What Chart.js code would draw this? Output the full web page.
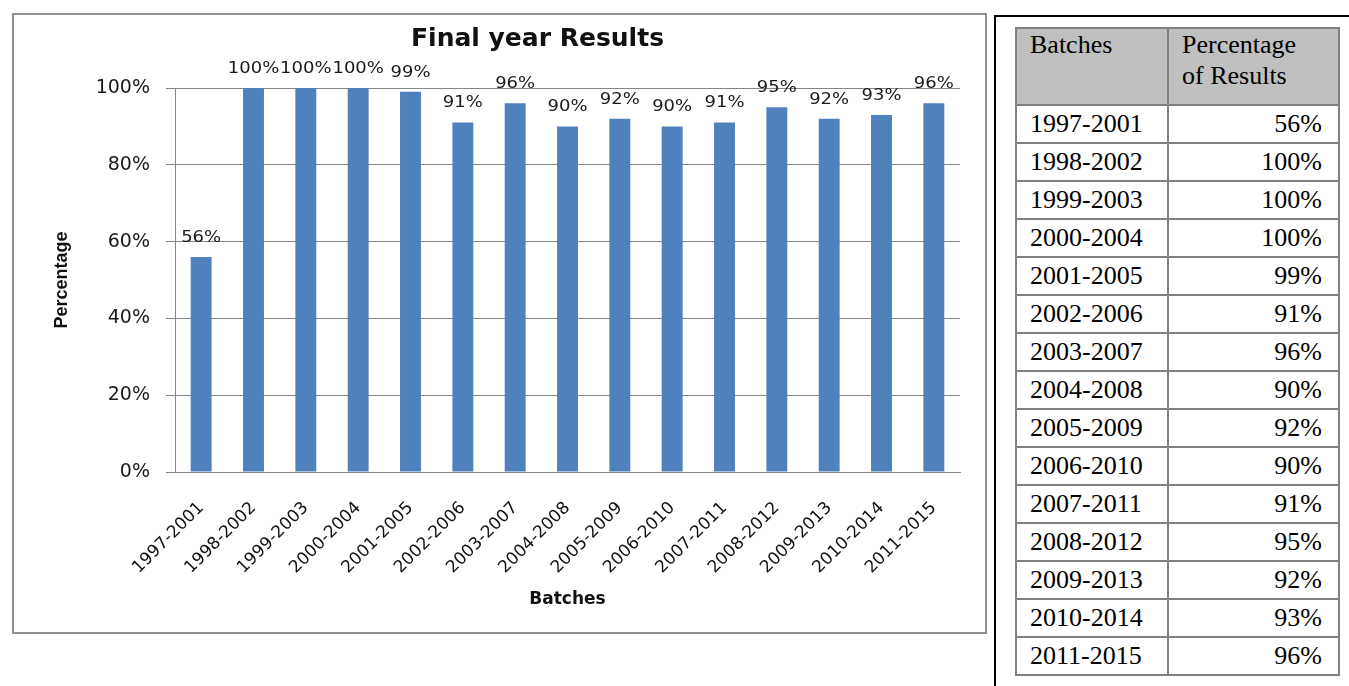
<!DOCTYPE html>
<html>
<head>
<meta charset="utf-8">
<title>Final year Results</title>
<script src="https://cdn.jsdelivr.net/npm/chart.js@4"></script>
<style>
    html, body{
        margin:0;
        padding:0;
        background:#ffffff;
        width:1349px;
        height:686px;
        overflow:hidden;
    }

    /* chart frame (grey) */
    #chartBox{
        position:absolute;
        left:12px;
        top:13px;
        width:975px;
        height:621px;
        box-sizing:border-box;
        border:2px solid #8f8f8f;
    }

    #chartWrap{
        position:relative;
        width:971px;
        height:617px;
    }

    /* table frame (black) */
    #tableBox{
        position:absolute;
        left:994px;
        top:15px;
        width:400px;
        height:700px;
        box-sizing:border-box;
        border:2px solid #000000;
    }

    #resultTable{
        position:absolute;
        left:1015px;
        top:27px;
        border-collapse:collapse;
        table-layout:fixed;
        width:323px;
        font-family:"Liberation Serif", "Times New Roman", serif;
        font-size:26px;
        color:#000000;
    }

    #resultTable th,
    #resultTable td{
        border:2px solid #808080;
        padding:0 16px 0 13px;
        line-height:36px;
        font-weight:normal;
        white-space:nowrap;
    }

    #resultTable th{
        background:#c0c0c0;
        text-align:left;
        vertical-align:top;
        line-height:31px;
        padding-bottom:13px;
        white-space:normal;
    }

    #resultTable td.val{
        text-align:right;
    }
</style>
</head>
<body>

<div id="chartBox">
    <div id="chartWrap">
        <canvas id="barChart"></canvas>
    </div>
</div>

<div id="tableBox"></div>

<table id="resultTable">
    <colgroup>
        <col style="width:152px">
        <col style="width:171px">
    </colgroup>
    <thead>
        <tr>
            <th>Batches</th>
            <th>Percentage of Results</th>
        </tr>
    </thead>
    <tbody id="resultBody"></tbody>
</table>

<script>

/*
=================================
DATA
=================================
*/

const batches = [
    "1997-2001",
    "1998-2002",
    "1999-2003",
    "2000-2004",
    "2001-2005",
    "2002-2006",
    "2003-2007",
    "2004-2008",
    "2005-2009",
    "2006-2010",
    "2007-2011",
    "2008-2012",
    "2009-2013",
    "2010-2014",
    "2011-2015"
];

const results = [
    56, 100, 100, 100, 99, 91, 96,
    90, 92, 90, 91, 95, 92, 93, 96
];

const yTickValues = [0, 20, 40, 60, 80, 100];

const chartTitle = "Final year Results";
const xAxisTitle = "Batches";
const yAxisTitle = "Percentage";

/*
=================================
TABLE
=================================
*/

function loadTable(){

    const body =
        document.getElementById(
            "resultBody"
        );

    batches.forEach((batch, i) => {

        const row =
            document.createElement("tr");

        row.innerHTML = `
            <td>${batch}</td>
            <td class="val">${results[i]}%</td>
        `;

        body.appendChild(row);
    });
}

/*
=================================
PLUGINS
=================================
*/

// value labels above each bar
const barLabels = {

    id:"barLabels",

    afterDatasetsDraw(chart){

        const ctx = chart.ctx;
        const meta = chart.getDatasetMeta(0);

        ctx.save();
        ctx.font = "15px 'DejaVu Sans'";
        ctx.fillStyle = "#1a1a1a";
        ctx.textAlign = "center";
        ctx.textBaseline = "middle";

        meta.data.forEach((bar, i) => {

            ctx.save();
            ctx.translate(bar.x, bar.y - 19);
            ctx.scale(1.2, 1);
            ctx.fillText(results[i] + "%", 0, 0);
            ctx.restore();
        });

        ctx.restore();
    }
};

// chart title (sits a bit left of the plot centre)
const titleText = {

    id:"titleText",

    afterDraw(chart){

        const ctx = chart.ctx;
        const area = chart.chartArea;

        ctx.save();
        ctx.font = "bold 25px 'DejaVu Sans'";
        ctx.fillStyle = "#111111";
        ctx.textAlign = "center";
        ctx.textBaseline = "middle";
        ctx.fillText(
            chartTitle,
            (area.left + area.right) / 2 - 30,
            24
        );
        ctx.restore();
    }
};

/*
=================================
BAR CHART
=================================
*/

function createBarChart(){

    const canvas =
        document.getElementById(
            "barChart"
        );

    new Chart(canvas, {

        type:"bar",

        data:{

            labels:batches,

            datasets:[{

                data:results,

                backgroundColor:"#4f81bd",

                barPercentage:0.4,

                categoryPercentage:1
            }]
        },

        options:{

            responsive:true,
            maintainAspectRatio:false,
            animation:false,

            layout:{
                padding:{
                    top:73,
                    right:25,
                    bottom:0,
                    left:0
                }
            },

            plugins:{
                legend:{ display:false },
                tooltip:{ enabled:false }
            },

            scales:{

                x:{

                    afterFit(scale){
                        scale.height = 160;
                    },

                    grid:{
                        display:false,
                        drawTicks:false
                    },

                    border:{
                        display:true,
                        color:"#858585",
                        width:1
                    },

                    ticks:{
                        minRotation:45,
                        maxRotation:45,
                        autoSkip:false,
                        padding:26,
                        color:"#111111",
                        font:{
                            family:"DejaVu Sans",
                            size:17
                        }
                    },

                    title:{
                        display:true,
                        text:xAxisTitle,
                        color:"#111111",
                        padding:{ top:0, bottom:22 },
                        font:{
                            family:"DejaVu Sans",
                            size:17,
                            weight:"bold"
                        }
                    }
                },

                y:{

                    min:0,
                    max:100,

                    afterFit(scale){
                        scale.width = 161;
                    },

                    afterBuildTicks(scale){
                        scale.ticks =
                            yTickValues.map(v => ({ value:v }));
                    },

                    grid:{
                        color:"#858585",
                        lineWidth:1,
                        drawTicks:true,
                        tickLength:9
                    },

                    border:{
                        display:true,
                        color:"#858585",
                        width:1
                    },

                    ticks:{
                        padding:16,
                        color:"#1a1a1a",
                        callback:v => v + "%",
                        font:{
                            family:"DejaVu Sans",
                            size:19
                        }
                    },

                    title:{
                        display:true,
                        text:yAxisTitle,
                        color:"#111111",
                        padding:{ top:37, bottom:0 },
                        font:{
                            family:"Liberation Sans",
                            size:18,
                            weight:"bold"
                        }
                    }
                }
            }
        },

        plugins:[barLabels, titleText]
    });
}

loadTable();
createBarChart();

</script>
</body>
</html>
